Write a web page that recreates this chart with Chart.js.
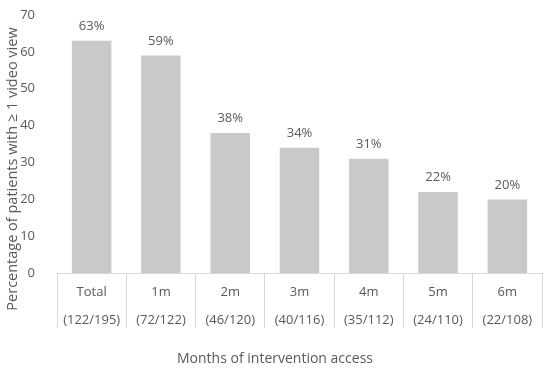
<!DOCTYPE html>
<html>
<head>
<meta charset="utf-8">
<script src="https://cdn.jsdelivr.net/npm/chart.js@4.4.1/dist/chart.umd.min.js"></script>
<style>
  html, body { margin: 0; padding: 0; background: #fff; }
  #wrap { width: 550px; height: 372px; position: relative; }
</style>
</head>
<body>
<div id="wrap"><canvas id="chart"></canvas></div>
<script>
const categories = ['Total', '1m', '2m', '3m', '4m', '5m', '6m'];
const counts = ['(122/195)', '(72/122)', '(46/120)', '(40/116)', '(35/112)', '(24/110)', '(22/108)'];
const percentages = [63, 59, 38, 34, 31, 22, 20];
const yTicks = [0, 10, 20, 30, 40, 50, 60, 70];

const textColor = '#595959';
const lineColor = '#d9d9d9';
const fontFamily = '"Open Sans", sans-serif';

// value labels above bars + rotated y title
const extraText = {
    id: 'extraText',
    afterDatasetsDraw(chart) {
        const ctx = chart.ctx;
        const meta = chart.getDatasetMeta(0);
        ctx.save();
        ctx.fillStyle = textColor;
        ctx.font = '13px ' + fontFamily;
        ctx.textAlign = 'center';
        ctx.textBaseline = 'bottom';
        meta.data.forEach((bar, i) => {
            ctx.fillText(percentages[i] + '%', bar.x, bar.y - 8);
        });
        ctx.translate(13, 169);
        ctx.rotate(-Math.PI / 2);
        ctx.textBaseline = 'middle';
        ctx.font = '14.5px ' + fontFamily;
        ctx.fillText('Percentage of patients with \u2265 1 video view', 0, 0);
        ctx.restore();
    }
};

new Chart(document.getElementById('chart'), {
    type: 'bar',
    data: {
        labels: categories.map((c, i) => [c, counts[i]]),
        datasets: [{
            data: percentages,
            backgroundColor: '#c9c9c9',
            categoryPercentage: 1,
            barPercentage: 0.57
        }]
    },
    options: {
        responsive: true,
        maintainAspectRatio: false,
        animation: false,
        layout: { padding: { left: 0, right: 0, top: 0, bottom: 0 } },
        plugins: {
            legend: { display: false },
            tooltip: { enabled: false },
            title: {
                display: true,
                position: 'bottom',
                text: 'Months of intervention access',
                color: textColor,
                font: { family: fontFamily, size: 14, weight: 'normal' },
                padding: { top: 0, bottom: 5 }
            }
        },
        scales: {
            x: {
                grid: {
                    offset: true,
                    drawOnChartArea: false,
                    drawTicks: true,
                    tickLength: 55,
                    color: lineColor
                },
                border: { display: true, color: lineColor },
                ticks: {
                    color: textColor,
                    font: { family: fontFamily, size: 13, lineHeight: 2.15 },
                    padding: -50,
                    maxRotation: 0
                },
                afterFit(scale) { scale.height = 77; }
            },
            y: {
                min: 0,
                max: 70,
                grid: { display: false },
                border: { display: false },
                afterBuildTicks(scale) { scale.ticks = yTicks.map(v => ({ value: v })); },
                ticks: {
                    color: textColor,
                    font: { family: fontFamily, size: 13 },
                    padding: 14
                },
                afterFit(scale) {
                    scale.width = 57;
                    scale.paddingTop = 15;
                }
            },
            // empty right-hand spacer so the bottom title centres on the whole canvas
            yRight: {
                position: 'right',
                grid: { display: false },
                border: { display: false },
                ticks: { display: false },
                afterFit(scale) { scale.width = 8; }
            }
        }
    },
    plugins: [extraText]
});
</script>
</body>
</html>
